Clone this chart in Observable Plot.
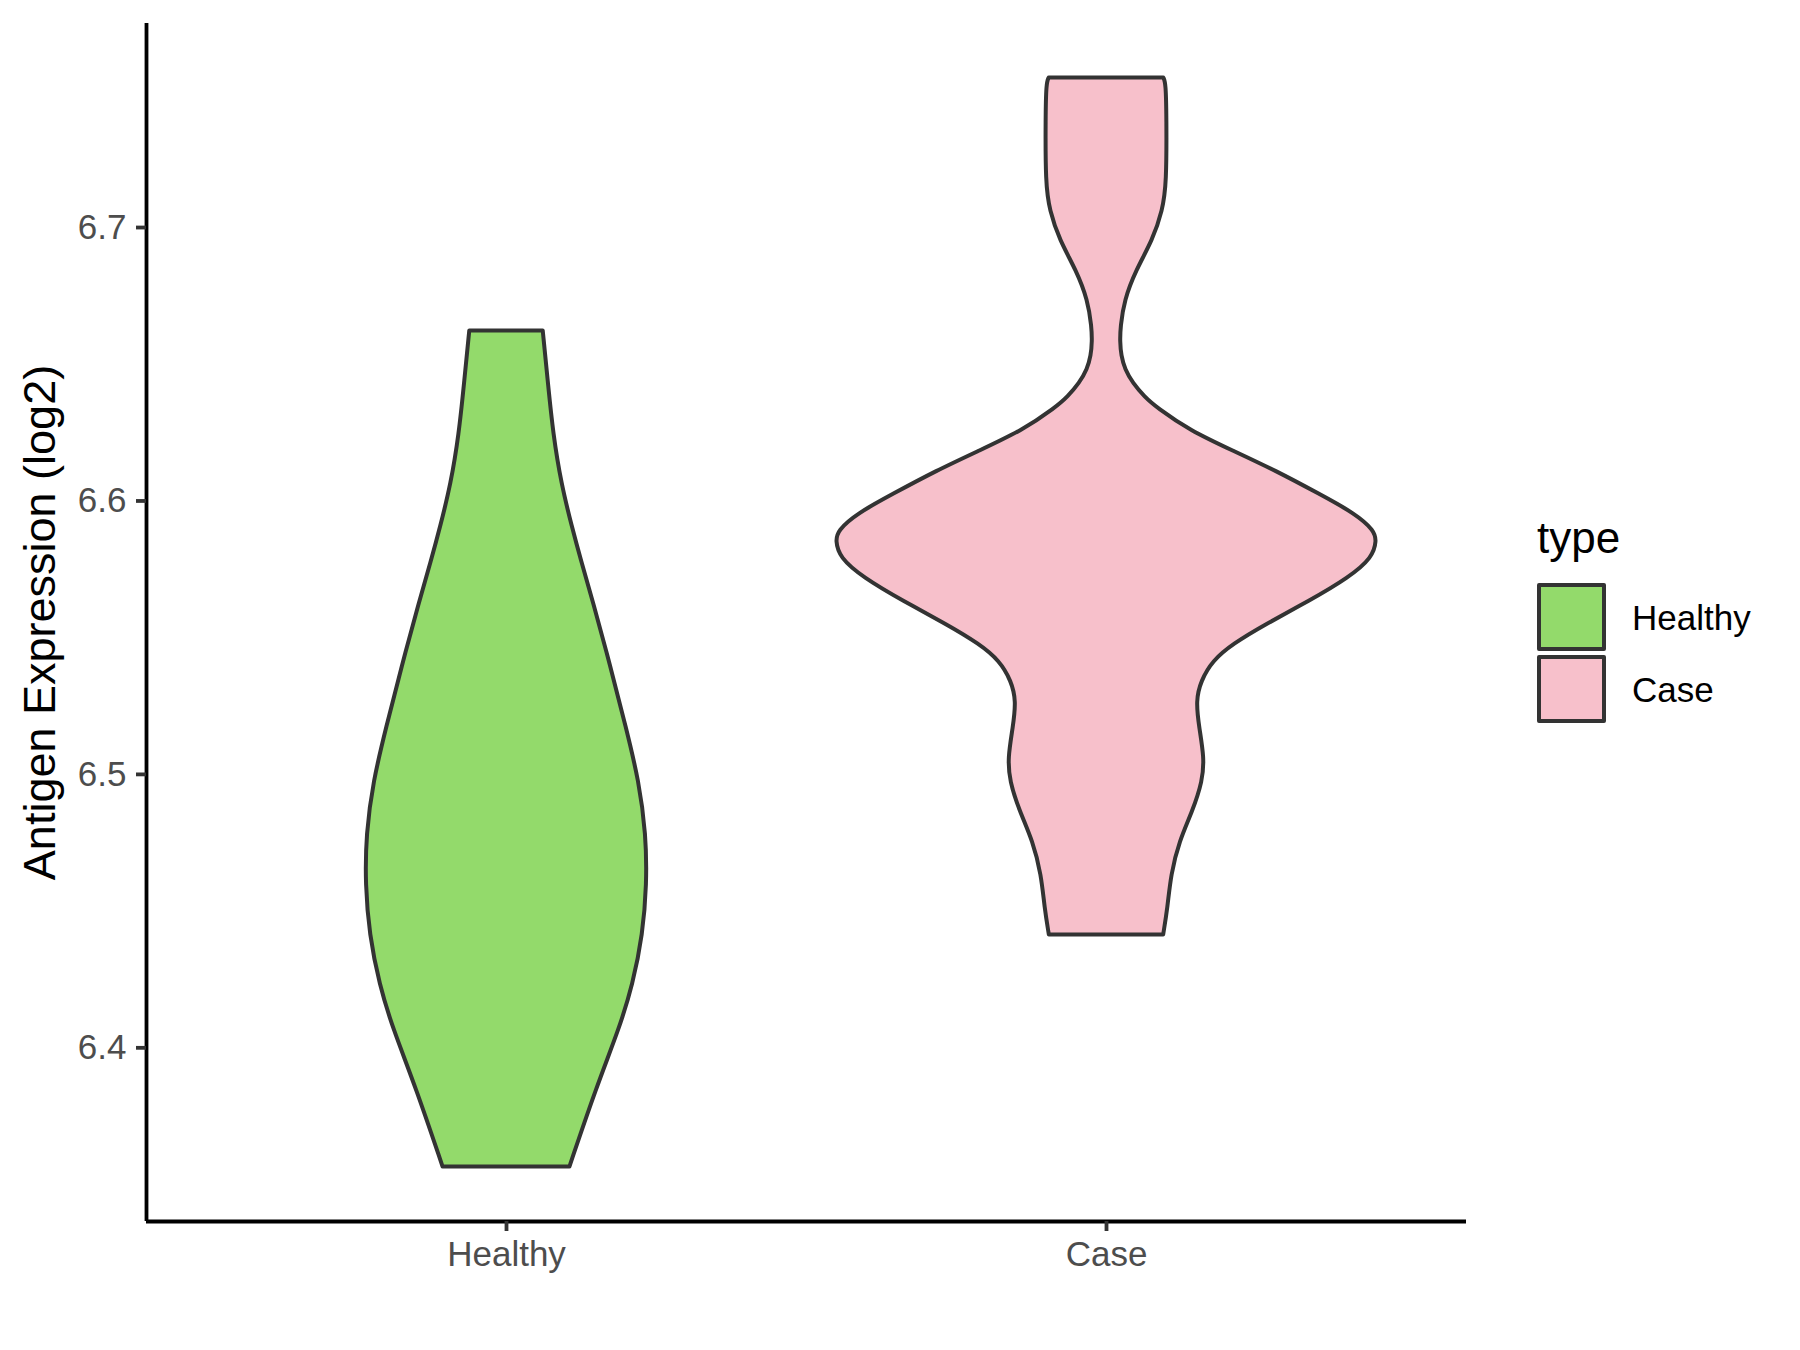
<!DOCTYPE html>
<html>
<head>
<meta charset="utf-8">
<script src="https://cdn.jsdelivr.net/npm/d3@7"></script>
<script src="https://cdn.jsdelivr.net/npm/@observablehq/plot@0.6"></script>
<style>
  html, body { margin: 0; padding: 0; background: #fff; }
  #wrap { position: relative; width: 1800px; height: 1350px; font-family: "Liberation Sans", Arial, sans-serif; }
  #legend-title { position: absolute; left: 1537px; top: 516px; font-size: 44px; line-height: 44px; color: #000; }
  .key { position: absolute; left: 1537px; width: 69px; height: 68px; box-sizing: border-box; border: 4px solid #333; border-radius: 2px; }
  .klabel { position: absolute; left: 1632px; font-size: 35px; line-height: 35px; color: #000; }
</style>
</head>
<body>
<div id="wrap"></div>
<script>
// ---- data ----
const categories = ["Healthy", "Case"];
const fills = ["#93DA6B", "#F7C0CB"];
const yTicks = [6.4, 6.5, 6.6, 6.7];
const yTitle = "Antigen Expression (log2)";
const legendTitle = "type";

// violin outlines: expression value and half-width (in category units)
const healthyValues = [6.6622, 6.6427, 6.6244, 6.6061, 6.5902, 6.5780, 6.5633, 6.5389, 6.5169, 6.4974, 6.4779, 6.4596, 6.4413, 6.4230, 6.4071, 6.3851, 6.3564];
const healthyHalfWidths = [0.0612, 0.0700, 0.0785, 0.0920, 0.1100, 0.1250, 0.1445, 0.1745, 0.2000, 0.2215, 0.2333, 0.2345, 0.2278, 0.2112, 0.1890, 0.1500, 0.1057];

const caseValues = [6.7547, 6.7526, 6.7403, 6.7159, 6.7062, 6.6952, 6.6842, 6.6732, 6.6634, 6.6582, 6.6530, 6.6480, 6.6430, 6.6380, 6.6341, 6.6256, 6.6183, 6.6109, 6.6024, 6.5951, 6.5890, 6.5853, 6.5792, 6.5719, 6.5633, 6.5548, 6.5475, 6.5414, 6.5340, 6.5267, 6.5169, 6.5059, 6.4974, 6.4864, 6.4754, 6.4632, 6.4510, 6.4413];
const caseHalfWidths = [0.0955, 0.0997, 0.1008, 0.1008, 0.0942, 0.0775, 0.0497, 0.0303, 0.0240, 0.0233, 0.0252, 0.0315, 0.0445, 0.0640, 0.0840, 0.1400, 0.2108, 0.2830, 0.3553, 0.4163, 0.4470, 0.4508, 0.4442, 0.4053, 0.3387, 0.2663, 0.2108, 0.1775, 0.1580, 0.1497, 0.1553, 0.1637, 0.1608, 0.1442, 0.1220, 0.1080, 0.1025, 0.0953];

// ---- build table ----
const groups = [
  {name: categories[0], values: healthyValues, hw: healthyHalfWidths},
  {name: categories[1], values: caseValues, hw: caseHalfWidths}
];
const rows = [];
groups.forEach((g, i) => {
  const pos = i + 1;
  g.values.forEach((v, j) => rows.push({group: g.name, value: v, x1: pos - g.hw[j], x2: pos + g.hw[j]}));
});

const allVals = rows.map(d => d.value);
const vmin = d3.min(allVals), vmax = d3.max(allVals);
const pad = (vmax - vmin) * 0.05;
const lo = vmin - pad, hi = vmax + pad;

const chart = Plot.plot({
  width: 1800,
  height: 1350,
  marginLeft: 146,
  marginRight: 334,
  marginTop: 23,
  marginBottom: 129,
  style: {fontFamily: "'Liberation Sans', Arial, sans-serif", background: "white", overflow: "visible"},
  x: {domain: [0.4, 2.6], axis: null},
  y: {domain: [lo, hi], axis: null},
  color: {domain: categories, range: fills},
  marks: [
    Plot.areaX(rows, {y: "value", x1: "x1", x2: "x2", z: "group", fill: "group",
      stroke: "#333333", strokeWidth: 4, strokeLinejoin: "round", curve: "basis"}),
    Plot.ruleX([0.4], {stroke: "black", strokeWidth: 3.8}),
    Plot.ruleY([lo], {stroke: "black", strokeWidth: 3.8}),
    Plot.axisY({ticks: yTicks, tickFormat: d => d.toFixed(1), tickSize: 10, tickPadding: 10,
      fontSize: 35, fill: "#4D4D4D", stroke: "#333333", strokeWidth: 3.8, label: null}),
    Plot.axisX({ticks: [1, 2], tickFormat: d => categories[d - 1], tickSize: 10, tickPadding: 10,
      fontSize: 35, fill: "#4D4D4D", stroke: "#333333", strokeWidth: 3.8, label: null}),
    Plot.text([yTitle], {text: d => d, frameAnchor: "left", textAnchor: "middle", rotate: -90, dx: -106, fontSize: 45, fill: "black"})
  ]
});

const wrap = document.getElementById("wrap");
wrap.appendChild(chart);

// legend (placed beside the plot)
const lt = document.createElement("div");
lt.id = "legend-title";
lt.textContent = legendTitle;
wrap.appendChild(lt);
const keyTops = [583, 655];
const labelTops = [600, 672];
categories.forEach((c, i) => {
  const k = document.createElement("div");
  k.className = "key";
  k.style.top = keyTops[i] + "px";
  k.style.background = fills[i];
  wrap.appendChild(k);
  const l = document.createElement("div");
  l.className = "klabel";
  l.style.top = labelTops[i] + "px";
  l.textContent = c;
  wrap.appendChild(l);
});
</script>
</body>
</html>
